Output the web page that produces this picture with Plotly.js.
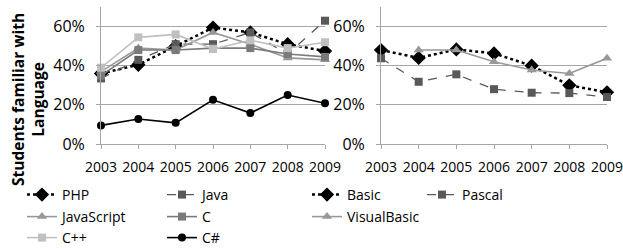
<!DOCTYPE html>
<html>
<head>
<meta charset="utf-8">
<script src="https://cdn.plot.ly/plotly-3.0.1.min.js"></script>
<style>html,body{margin:0;padding:0;background:#fff;}#chart{width:623px;height:251px;}</style>
</head>
<body>
<div id="chart"></div>
<script>
// ---- data ----
var years = [2003, 2004, 2005, 2006, 2007, 2008, 2009];
var yTicks = [0, 20, 40, 60];
var yTickText = ['0%', '20%', '40%', '60%'];

// left panel
var php        = [36, 40.5, 50, 59.5, 57, 51, 47.5];
var java       = [33.5, 43, 51, 51, 57, 46, 63];
var javascript = [37, 49, 48, 57, 51, 44, 43];
var cLang      = [35, 48, 48, 49, 49, 46, 44.5];
var cpp        = [39, 54.5, 56, 48.5, 53, 49, 52];
var csharp     = [9.5, 12.8, 10.8, 22.6, 15.8, 25, 20.8];

// right panel
var basic       = [48, 44, 48.3, 46.3, 40, 30, 26.4];
var pascal      = [43.8, 31.8, 35.6, 28, 26.2, 26, 24];
var visualbasic = [null, 48, 48, 42, 37.8, 36, 43.8];

var FONT = 'Open Sans, sans-serif';
var GRID = '#a6a6a6';

function tr(name, y, xa, ya, color, dash, width, symbol, size, legend) {
  return {
    type: 'scatter', mode: 'lines+markers', name: name,
    x: years, y: y, xaxis: xa, yaxis: ya,
    line: {color: color, dash: dash, width: width},
    marker: {symbol: symbol, size: size, color: color},
    cliponaxis: false, connectgaps: false, legend: legend
  };
}

var data = [
  tr('PHP', php, 'x', 'y', '#000000', 'dot', 2.5, 'diamond', 11, 'legend'),
  tr('Java', java, 'x', 'y', '#595959', 'dash', 1.3, 'square', 8, 'legend'),
  tr('JavaScript', javascript, 'x', 'y', '#989898', 'solid', 1.6, 'triangle-up', 9, 'legend2'),
  tr('C', cLang, 'x', 'y', '#7a7a7a', 'solid', 1.6, 'square', 8, 'legend2'),
  tr('C++', cpp, 'x', 'y', '#c0c0c0', 'solid', 1.6, 'square', 8, 'legend3'),
  tr('C#', csharp, 'x', 'y', '#000000', 'solid', 1.6, 'circle', 8, 'legend3'),
  tr('Basic', basic, 'x2', 'y2', '#000000', 'dot', 2.5, 'diamond', 11, 'legend4'),
  tr('Pascal', pascal, 'x2', 'y2', '#595959', 'dash', 1.3, 'square', 8, 'legend4'),
  tr('VisualBasic', visualbasic, 'x2', 'y2', '#989898', 'solid', 1.6, 'triangle-up', 9, 'legend5')
];

function xax(domain, anchor) {
  return {
    domain: domain, anchor: anchor, type: 'linear', range: [2003, 2009],
    tickvals: years, ticktext: years.map(String),
    ticks: 'outside', ticklen: 4, tickcolor: GRID, tickwidth: 1,
    showgrid: false, zeroline: false, showline: true, linecolor: GRID, linewidth: 1,
    tickfont: {family: FONT, size: 14, color: '#000'}, ticklabelstandoff: 6,
    ticklabeloverflow: 'allow', fixedrange: true
  };
}
function yax(anchor) {
  return {
    domain: [1 - 144 / 251, 1 - 7 / 251], anchor: anchor, range: [0, 70],
    tickvals: yTicks, ticktext: yTickText,
    ticks: 'outside', ticklen: 4, tickcolor: GRID, tickwidth: 1,
    showgrid: true, gridcolor: GRID, gridwidth: 1,
    zeroline: false, showline: true, linecolor: GRID, linewidth: 1,
    tickfont: {family: FONT, size: 16, color: '#000'}, ticklabelstandoff: 8,
    ticklabeloverflow: 'allow', fixedrange: true
  };
}
function leg(x, yc, ew) {
  return {
    orientation: 'h', x: x / 623, xanchor: 'left', y: 1 - yc / 251, yanchor: 'middle',
    entrywidth: ew, entrywidthmode: 'pixels', itemwidth: 30,
    font: {family: FONT, size: 14, color: '#000'}, bgcolor: 'rgba(0,0,0,0)',
    borderwidth: 0, tracegroupgap: 0
  };
}

var layout = {
  width: 623, height: 251,
  margin: {l: 0, r: 0, t: 0, b: 0, autoexpand: false},
  paper_bgcolor: '#fff', plot_bgcolor: '#fff',
  font: {family: FONT, color: '#000'},
  showlegend: true,
  xaxis: xax([101 / 623, 325 / 623], 'y'),
  yaxis: yax('x'),
  xaxis2: xax([381 / 623, 607 / 623], 'y2'),
  yaxis2: yax('x2'),
  legend: leg(22, 195, 95),
  legend2: leg(22, 217, 95),
  legend3: leg(22, 238, 95),
  legend4: leg(307, 195, 70),
  legend5: leg(307, 217, 70),
  annotations: [{
    xref: 'paper', yref: 'paper', x: 28 / 623, y: 1 - 100 / 251,
    xanchor: 'center', yanchor: 'middle', showarrow: false, textangle: -90,
    text: '<b>Students familiar with<br>Language</b>',
    font: {family: FONT, size: 15.5, color: '#000'}
  }]
};

Plotly.newPlot('chart', data, layout, {displayModeBar: false, staticPlot: true});
</script>
</body>
</html>
